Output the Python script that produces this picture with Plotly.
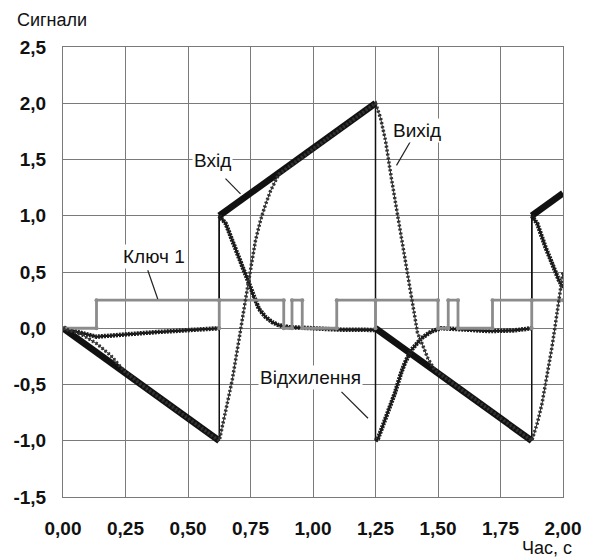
import plotly.graph_objects as go

# Input signal (Вхід): ramps with jumps at the switching instants
input_t = [0.0, 0.625, 0.625, 1.25, 1.25, 1.875, 1.875, 2.0]
input_v = [0.0, -1.0, 1.0, 2.0, 0.0, -1.0, 1.0, 1.2]

# Output signal (Вихід)
output_t = [0.0, 0.07, 0.134, 0.19, 0.245, 0.3, 0.625,
            0.65, 0.677, 0.704, 0.72, 0.738, 0.77, 0.79, 0.81, 0.83, 0.863, 1.25,
            1.27, 1.29, 1.313, 1.34, 1.367, 1.395, 1.418, 1.433, 1.46, 1.486, 1.51, 1.875,
            1.897, 1.916, 1.936, 1.956, 1.97, 1.983, 1.992, 2.0]
output_v = [0.0, -0.05, -0.135, -0.24, -0.38, -0.48, -1.0,
            -0.75, -0.46, -0.1, 0.1, 0.36, 0.78, 0.96, 1.1, 1.22, 1.37, 2.0,
            1.87, 1.67, 1.34, 0.99, 0.63, 0.28, -0.04, -0.12, -0.27, -0.37, -0.41, -1.0,
            -0.845, -0.67, -0.43, -0.166, 0.04, 0.25, 0.4, 0.5]

# Deviation signal (Відхилення)
dev_t = [0.0, 0.134, 0.366, 0.625, 0.625, 0.651, 0.677, 0.704, 0.73, 0.75, 0.763, 0.783,
         0.81, 0.836, 0.863, 0.903, 1.0, 1.1, 1.25, 1.25, 1.26, 1.287, 1.307, 1.327, 1.352,
         1.367, 1.393, 1.433, 1.472, 1.512, 1.6, 1.7, 1.8, 1.875, 1.875, 1.897, 1.93,
         1.956, 1.983, 2.0]
dev_v = [0.0, -0.075, -0.035, 0.0, 1.0, 0.93, 0.78, 0.63, 0.485, 0.366, 0.277, 0.175,
         0.1, 0.056, 0.027, 0.01, 0.0, -0.012, -0.015, -1.0, -0.98, -0.82, -0.7, -0.58, -0.4,
         -0.31, -0.195, -0.09, -0.03, 0.0, -0.01, -0.025, -0.02, 0.0, 1.0, 0.93, 0.72,
         0.57, 0.43, 0.36]

# Switch signal (Ключ 1): 0 / 0.25 levels
key_t = [0.0, 0.134, 0.134, 0.625, 0.625, 0.625, 0.883, 0.883, 0.916, 0.916, 0.957, 0.957,
         1.095, 1.095, 1.25, 1.25, 1.25, 1.5, 1.5, 1.541, 1.541, 1.58, 1.58, 1.718, 1.718,
         1.875, 1.875, 1.875, 2.0]
key_v = [0.0, 0.0, 0.25, 0.25, 0.0, 0.25, 0.25, 0.0, 0.0, 0.25, 0.25, 0.0,
         0.0, 0.25, 0.25, 0.0, 0.25, 0.25, 0.0, 0.0, 0.25, 0.25, 0.0, 0.0, 0.25,
         0.25, 0.0, 0.25, 0.25]

x_ticks = [0.0, 0.25, 0.5, 0.75, 1.0, 1.25, 1.5, 1.75, 2.0]
x_labels = ["0,00", "0,25", "0,50", "0,75", "1,00", "1,25", "1,50", "1,75", "2,00"]
y_ticks = [-1.5, -1.0, -0.5, 0.0, 0.5, 1.0, 1.5, 2.0, 2.5]
y_labels = ["-1,5", "-1,0", "-0,5", "0,0", "0,5", "1,0", "1,5", "2,0", "2,5"]


def split_jumps(t, v):
    """Break a series at vertical jumps so that only the sloped parts get heavy styling."""
    xs, ys = [t[0]], [v[0]]
    for i in range(1, len(t)):
        if t[i] == t[i - 1]:
            xs.append(None)
            ys.append(None)
        xs.append(t[i])
        ys.append(v[i])
    return xs, ys


FONT = "Liberation Sans"
fig = go.Figure()

# thin connectors (including the vertical jumps)
for tt, vv in [(input_t, input_v), (dev_t, dev_v)]:
    fig.add_trace(go.Scatter(x=tt, y=vv, mode="lines",
                             line=dict(color="#111111", width=1.5),
                             hoverinfo="skip", showlegend=False))

# input: heavy black line
xi, yi = split_jumps(input_t, input_v)
fig.add_trace(go.Scatter(x=xi, y=yi, mode="lines", name="Вхід",
                         line=dict(color="#111111", width=6.5), showlegend=False))

# deviation: dense beaded line
xd, yd = split_jumps(dev_t, dev_v)
fig.add_trace(go.Scatter(x=xd, y=yd, mode="lines", line=dict(color="#111111", width=2),
                         hoverinfo="skip", showlegend=False))
fig.add_trace(go.Scatter(x=xd, y=yd, mode="lines", name="Відхилення",
                         line=dict(color="#1e1e1e", width=4.5, dash="2px,1px"),
                         showlegend=False))

# switch: gray step line
fig.add_trace(go.Scatter(x=key_t, y=key_v, mode="lines+markers", name="Ключ 1",
                         line=dict(color="#8c8c8c", width=2.8),
                         marker=dict(color="#8c8c8c", size=4), showlegend=False))

# output: thin beaded line
fig.add_trace(go.Scatter(x=output_t, y=output_v, mode="lines", line=dict(color="#222222", width=1),
                         hoverinfo="skip", showlegend=False))
fig.add_trace(go.Scatter(x=output_t, y=output_v, mode="lines", name="Вихід",
                         line=dict(color="#333333", width=3.5, dash="2px,2px"),
                         showlegend=False))

# series labels with leader lines
labels = [
    ("Вхід", 0.599, 1.495, (0.65, 1.33, 0.71, 1.195)),
    ("Ключ 1", 0.363, 0.64, (0.339, 0.515, 0.379, 0.26)),
    ("Вихід", 1.416, 1.76, (1.396, 1.685, 1.334, 1.448)),
    ("Відхилення", 0.99, -0.435, (1.114, -0.565, 1.22, -0.80)),
]
for text, lx, ly, (x0, y0, x1, y1) in labels:
    fig.add_shape(type="line", xref="x", yref="y", x0=x0, y0=y0, x1=x1, y1=y1,
                  line=dict(color="#222222", width=1.2))
    fig.add_annotation(x=lx, y=ly, xref="x", yref="y", text=text, showarrow=False,
                       bgcolor="white", borderpad=1,
                       font=dict(family=FONT, size=19, color="#111111"))

# axis titles placed as free annotations
fig.add_annotation(x=-48 / 503, y=1 + 27 / 450, xref="paper", yref="paper", text="Сигнали",
                   showarrow=False, xanchor="left", yanchor="middle",
                   font=dict(family=FONT, size=18, color="#111111"))
fig.add_annotation(x=1 + 11 / 503, y=-51 / 450, xref="paper", yref="paper", text="Час, с",
                   showarrow=False, xanchor="right", yanchor="middle",
                   font=dict(family=FONT, size=18, color="#111111"))

fig.update_layout(
    width=593, height=560,
    margin=dict(l=63, r=27, t=47, b=63),
    paper_bgcolor="white", plot_bgcolor="white",
    showlegend=False,
)

fig.update_xaxes(range=[0, 2], tickvals=x_ticks, ticktext=x_labels,
                 showgrid=True, gridcolor="#7a7a7a", gridwidth=1,
                 showline=True, linecolor="#7a7a7a", linewidth=1, mirror=True,
                 zeroline=False, ticks="", ticklabelstandoff=14,
                 tickfont=dict(family=FONT, size=19, color="#111111", weight="bold"))
fig.update_yaxes(range=[-1.5, 2.5], tickvals=y_ticks, ticktext=y_labels,
                 showgrid=True, gridcolor="#7a7a7a", gridwidth=1,
                 showline=True, linecolor="#7a7a7a", linewidth=1, mirror=True,
                 zeroline=False, ticks="", ticklabelstandoff=12,
                 tickfont=dict(family=FONT, size=19, color="#111111", weight="bold"))

fig.write_html("out.html")
